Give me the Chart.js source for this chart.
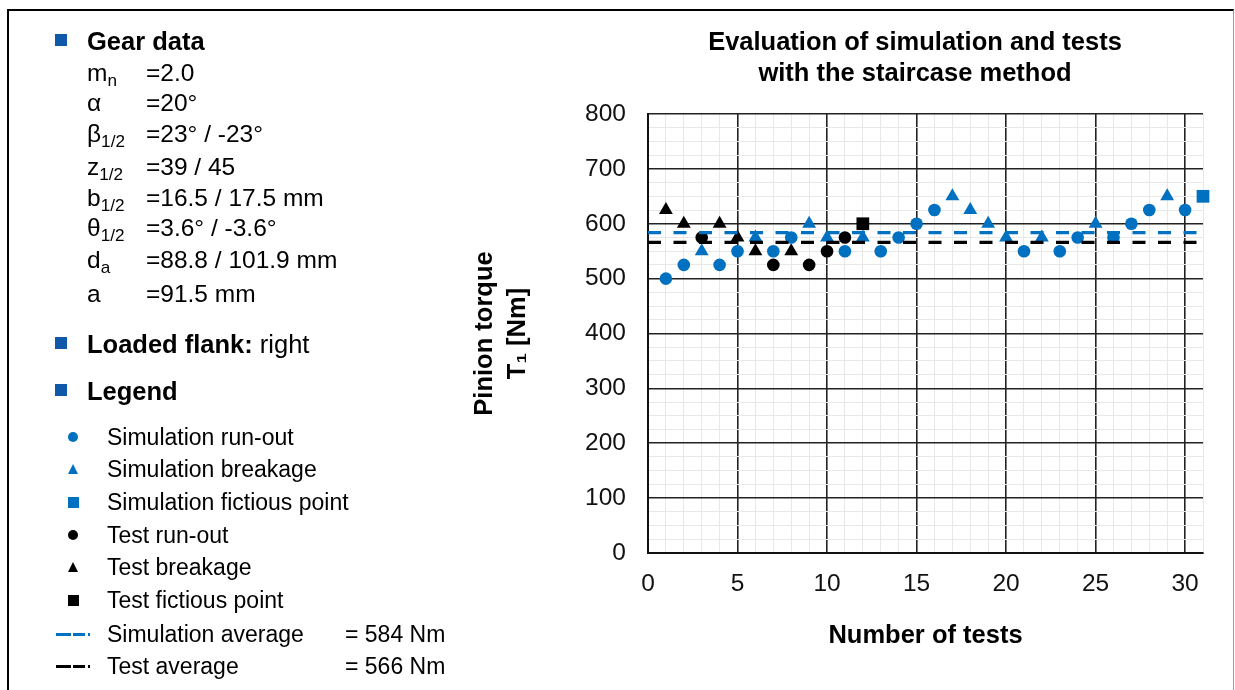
<!DOCTYPE html>
<html>
<head>
<meta charset="utf-8">
<script src="https://cdn.jsdelivr.net/npm/chart.js@4.4.1/dist/chart.umd.min.js"></script>
<style>
  html, body { margin: 0; padding: 0; background: #fff; }
  body { width: 1235px; height: 690px; position: relative; overflow: hidden;
         font-family: "Liberation Sans", Arial, sans-serif; color: #000; }
  #frame { position: absolute; left: 7px; top: 9px; width: 1227px; height: 720px;
           border-top: 2px solid #000; border-left: 2px solid #000; border-right: 1px solid #a0a0a0;
           box-sizing: border-box; }
  #wrap { position: absolute; left: 0; top: 0; width: 1235px; height: 690px; }
  .t { position: absolute; white-space: nowrap; }
  .t sub { font-size: 0.7em; vertical-align: -0.32em; line-height: 0; }
  .bold { font-weight: bold; }
  #title { position: absolute; left: 615px; top: 26px; width: 600px; text-align: center;
           font-weight: bold; font-size: 25.5px; line-height: 31px; }
  svg.mk { position: absolute; overflow: visible; }
</style>
</head>
<body>
<div id="frame"></div>
<div id="wrap"><canvas id="myChart"></canvas></div>
<div id="title">Evaluation of simulation and tests<br>with the staircase method</div>
<div id="panel"></div>
<script>
// staircase results, x = test number, y = pinion torque in Nm
const simRunOutX = [1, 2, 4, 5, 7, 8, 11, 13, 14, 15, 16, 21, 23, 24, 26, 27, 28, 30];
const simRunOutY = [500, 525, 525, 550, 550, 575, 550, 550, 575, 600, 625, 550, 550, 575, 575, 600, 625, 625];
const simBreakX = [3, 6, 9, 10, 12, 17, 18, 19, 20, 22, 25, 29];
const simBreakY = [550, 575, 600, 575, 575, 650, 625, 600, 575, 575, 600, 650];
const simFictX = [31];
const simFictY = [650];
const testRunOutX = [3, 7, 9, 10, 11];
const testRunOutY = [575, 525, 525, 550, 575];
const testBreakX = [1, 2, 4, 5, 6, 8];
const testBreakY = [625, 600, 600, 575, 550, 550];
const testFictX = [12];
const testFictY = [600];
const simAverage = 584;
const testAverage = 566;
const xRange = [0, 31];
const yRange = [0, 800];

const BLUE = "#0070c0";
const BULLET = "#1059a8";

function pts(xs, ys) {
  return xs.map((x, i) => ({ x: x, y: ys[i] }));
}
function avgLine(v) {
  return [{ x: xRange[0], y: v }, { x: xRange[1], y: v }];
}
function marks(label, xs, ys, color, style, r) {
  return {
    type: "scatter", label: label, data: pts(xs, ys),
    pointStyle: style, pointRadius: r, pointHoverRadius: r,
    backgroundColor: color, borderColor: color, borderWidth: 0, clip: false
  };
}
function avgSet(label, v, color) {
  return {
    type: "line", label: label, data: avgLine(v),
    borderColor: color, borderWidth: 3.2, borderDash: [13, 12.5],
    pointRadius: 0, fill: false, clip: false
  };
}

const tickFont = { family: "'Liberation Sans', Arial, sans-serif", size: 24.5 };
const titleFont = { family: "'Liberation Sans', Arial, sans-serif", size: 25.5, weight: "bold" };

const ctx = document.getElementById("myChart").getContext("2d");
const myChart = new Chart(ctx, {
  data: {
    datasets: [
      avgSet("Simulation average", simAverage, BLUE),
      avgSet("Test average", testAverage, "#000"),
      marks("Simulation run-out", simRunOutX, simRunOutY, BLUE, "circle", 6.3),
      marks("Simulation breakage", simBreakX, simBreakY, BLUE, "triangle", 8),
      marks("Simulation fictious point", simFictX, simFictY, BLUE, "rect", 9),
      marks("Test run-out", testRunOutX, testRunOutY, "#000", "circle", 6.3),
      marks("Test breakage", testBreakX, testBreakY, "#000", "triangle", 8),
      marks("Test fictious point", testFictX, testFictY, "#000", "rect", 9)
    ]
  },
  options: {
    responsive: true,
    maintainAspectRatio: false,
    animation: false,
    layout: { padding: { left: 468, right: 32, top: 114, bottom: 37 } },
    plugins: { legend: { display: false }, tooltip: { enabled: false } },
    scales: {
      x: {
        type: "linear", min: xRange[0], max: xRange[1],
        afterFit: (s) => { s.height = 100; },
        ticks: {
          stepSize: 1, autoSkip: false, maxRotation: 0, padding: 17,
          color: "#111", font: tickFont,
          callback: (v) => (v % 5 === 0 ? String(v) : "")
        },
        grid: {
          drawTicks: false,
          color: (c) => (c.tick && c.tick.value % 5 === 0 ? "#222" : "#e8e8e8"),
          lineWidth: (c) => (c.tick && c.tick.value % 5 === 0 ? 1.6 : 1)
        },
        border: { color: "#111", width: 2 },
        title: {
          display: true, text: "Number of tests", color: "#000",
          font: titleFont, padding: { top: 0, bottom: 2 }
        }
      },
      y: {
        type: "linear", min: yRange[0], max: yRange[1],
        afterFit: (s) => { s.width = 180; },
        ticks: {
          stepSize: 25, autoSkip: false, maxTicksLimit: 100, padding: 22,
          color: "#111", font: tickFont,
          callback: (v) => (v % 100 === 0 ? String(v) : "")
        },
        grid: {
          drawTicks: false,
          color: (c) => (c.tick && c.tick.value % 100 === 0 ? "#222" : "#e8e8e8"),
          lineWidth: (c) => (c.tick && c.tick.value % 100 === 0 ? 1.6 : 1)
        },
        border: { color: "#111", width: 2 },
        title: {
          display: true, text: ["Pinion torque", "T\u2081 [Nm]"], color: "#000",
          font: Object.assign({}, titleFont, { lineHeight: 1.29 }),
          padding: { top: 0.5, bottom: 0 }
        }
      }
    }
  }
});

// ---- side panel: gear data and legend ----
const panel = document.getElementById("panel");

function text(html, x, baseline, size, cls) {
  const d = document.createElement("div");
  d.className = "t" + (cls ? " " + cls : "");
  d.style.left = x + "px";
  d.style.fontSize = size + "px";
  d.style.lineHeight = size + "px";
  d.style.top = (baseline - (size / 2 + 0.3465 * size)) + "px";
  d.innerHTML = html;
  panel.appendChild(d);
}
function svg(x, y, w, h, inner) {
  const ns = "http://www.w3.org/2000/svg";
  const s = document.createElementNS(ns, "svg");
  s.setAttribute("class", "mk");
  s.setAttribute("width", w);
  s.setAttribute("height", h);
  s.style.left = x + "px";
  s.style.top = y + "px";
  s.innerHTML = inner;
  panel.appendChild(s);
}
function bullet(baseline) {
  svg(55, baseline - 17, 12, 12, '<rect width="12" height="12" fill="' + BULLET + '"/>');
}

bullet(51);
text("Gear data", 87, 51, 25.5, "bold");

const gearRows = [
  ["m", "n", "=2.0"],
  ["\u03b1", "", "=20\u00b0"],
  ["\u03b2", "1/2", "=23\u00b0 / -23\u00b0"],
  ["z", "1/2", "=39 / 45"],
  ["b", "1/2", "=16.5 / 17.5 mm"],
  ["\u03b8", "1/2", "=3.6\u00b0 / -3.6\u00b0"],
  ["d", "a", "=88.8 / 101.9 mm"],
  ["a", "", "=91.5 mm"]
];
const gearBase = [82, 112, 143, 176, 207, 237, 269, 303];
gearRows.forEach((r, i) => {
  text(r[0] + (r[1] ? "<sub>" + r[1] + "</sub>" : ""), 87, gearBase[i], 24.5);
  text(r[2], 146, gearBase[i], 24.5);
});

bullet(354);
text('<span class="bold">Loaded flank:</span> right', 87, 354, 25.5);
bullet(401);
text("Legend", 87, 401, 25.5, "bold");

const legendRows = [
  ["Simulation run-out", BLUE, "circle"],
  ["Simulation breakage", BLUE, "triangle"],
  ["Simulation fictious point", BLUE, "rect"],
  ["Test run-out", "#000", "circle"],
  ["Test breakage", "#000", "triangle"],
  ["Test fictious point", "#000", "rect"],
  ["Simulation average", BLUE, "dash", simAverage],
  ["Test average", "#000", "dash", testAverage]
];
const legendBase = [445, 477, 510, 543, 575, 608, 642, 674];
legendRows.forEach((r, i) => {
  const b = legendBase[i];
  const cy = b - 8;
  if (r[2] === "circle") {
    svg(68, cy - 5, 10, 10, '<circle cx="5" cy="5" r="5" fill="' + r[1] + '"/>');
  } else if (r[2] === "triangle") {
    svg(68, cy - 5, 10, 10, '<polygon points="5,0 10,10 0,10" fill="' + r[1] + '"/>');
  } else if (r[2] === "rect") {
    svg(68, cy - 5.5, 11, 11, '<rect width="11" height="11" fill="' + r[1] + '"/>');
  } else {
    svg(56, cy - 1.5, 36, 3,
      '<rect x="0" y="0" width="15" height="3" fill="' + r[1] + '"/>' +
      '<rect x="17" y="0" width="12" height="3" fill="' + r[1] + '"/>' +
      '<rect x="32" y="0" width="2" height="3" fill="' + r[1] + '"/>');
  }
  text(r[0], 107, b, 23);
  if (r[3] !== undefined) text("= " + r[3] + " Nm", 345, b, 23);
});
</script>
</body>
</html>
